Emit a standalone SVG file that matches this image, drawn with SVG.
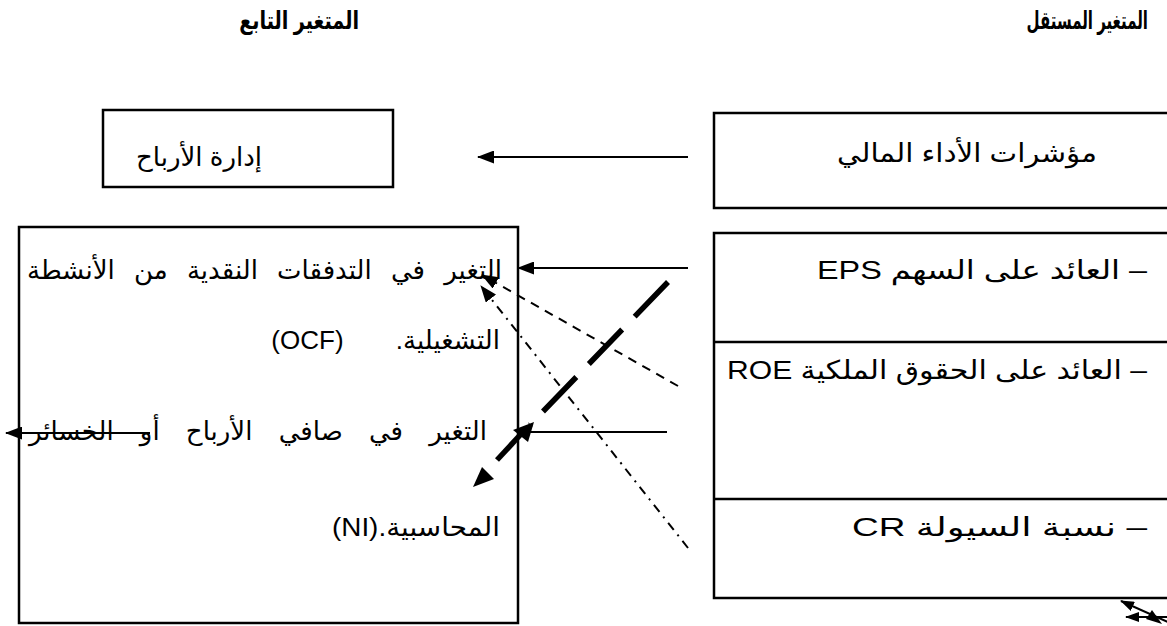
<svg xmlns="http://www.w3.org/2000/svg" width="1167" height="626" viewBox="0 0 1167 626">
<defs>
<style>
.box{fill:none;stroke:#000;stroke-width:2.5}
.t{font-family:"Liberation Sans","DejaVu Sans",sans-serif;font-size:26px;fill:#000;direction:rtl;text-anchor:start}
.h{font-family:"Liberation Sans","DejaVu Sans",sans-serif;font-size:25px;font-weight:bold;fill:#000;direction:rtl;text-anchor:start}
.ln{fill:none;stroke:#000;stroke-width:2}
.ah{fill:#000;stroke:none}
</style>
<marker id="arr" markerWidth="17" markerHeight="13" refX="16" refY="6.5" orient="auto" markerUnits="userSpaceOnUse">
<path d="M0,0 L17,6.5 L0,13 Z" fill="#000"/>
</marker>
<marker id="arrs" markerWidth="14" markerHeight="10" refX="13" refY="5" orient="auto" markerUnits="userSpaceOnUse">
<path d="M0,0 L14,5 L0,10 Z" fill="#000"/>
</marker>
</defs>
<rect width="1167" height="626" fill="#fff"/>

<g id="headers">
<text class="h" transform="translate(1148,29) scale(0.6,1)" x="0" y="0">المتغير المستقل</text>
<text class="h" transform="translate(359,29) scale(0.77,1)" x="0" y="0">المتغير التابع</text>
</g>

<g id="node-earnings-mgmt">
<rect class="box" x="103" y="110" width="290" height="77"/>
<text class="t" x="262" y="166">إدارة الأرباح</text>
</g>

<g id="node-perf-indicators">
<rect class="box" x="714" y="113" width="460" height="95"/>
<text class="t" x="1097" y="162" textLength="260" lengthAdjust="spacingAndGlyphs">مؤشرات الأداء المالي</text>
</g>

<g id="node-dependent">
<rect class="box" x="19" y="227" width="499" height="396"/>
<text class="t" x="502" y="279" word-spacing="12">التغير في التدفقات النقدية من الأنشطة</text>
<text class="t" x="500" y="349" word-spacing="45">التشغيلية. (OCF)</text>
<text class="t" x="487" y="440" word-spacing="19">التغير في صافي الأرباح أو الخسائر</text>
<text class="t" x="500" y="536" textLength="168" lengthAdjust="spacingAndGlyphs">المحاسبية.(NI)</text>
</g>

<g id="node-independent">
<rect class="box" x="714" y="233" width="460" height="365"/>
<line class="box" x1="714" y1="342" x2="1167" y2="342"/>
<line class="box" x1="714" y1="499" x2="1167" y2="499"/>
<text class="t" x="1147" y="279" textLength="330" lengthAdjust="spacingAndGlyphs">– العائد على السهم EPS</text>
<text class="t" x="1147" y="379" textLength="420" lengthAdjust="spacingAndGlyphs">– العائد على الحقوق الملكية ROE</text>
<text class="t" x="1147" y="536" textLength="295" lengthAdjust="spacingAndGlyphs">– نسبة السيولة CR</text>
</g>

<g id="connectors">
<line class="ln" x1="688" y1="157" x2="478" y2="157" marker-end="url(#arr)"/>
<line class="ln" x1="688" y1="268" x2="518" y2="268" marker-end="url(#arr)"/>
<line class="ln" x1="678" y1="386" x2="482" y2="275" stroke-dasharray="9 7" marker-end="url(#arr)"/>
<line class="ln" x1="688" y1="548" x2="481" y2="286" stroke-dasharray="9 6 2 6" marker-end="url(#arr)"/>
<line x1="668" y1="282" x2="530" y2="425" stroke="#000" stroke-width="5.5" stroke-dasharray="48 18"/>
<line x1="497" y1="460" x2="522" y2="433" stroke="#000" stroke-width="5.5"/>
<path class="ah" d="M534,422 L528,442 L513,430 Z"/>
<path class="ah" d="M473,487 L482,467 L494,479 Z"/>
<line class="ln" x1="667" y1="432" x2="525" y2="432"/>
<line class="ln" x1="150" y1="433" x2="6" y2="433" marker-end="url(#arr)"/>
<line class="ln" x1="1170" y1="623" x2="1121" y2="601" marker-end="url(#arrs)"/>
<line class="ln" x1="1170" y1="617" x2="1126" y2="617" marker-end="url(#arrs)"/>
<path class="ah" d="M1162,624 L1146,619 L1152,610 Z"/>
</g>
</svg>
